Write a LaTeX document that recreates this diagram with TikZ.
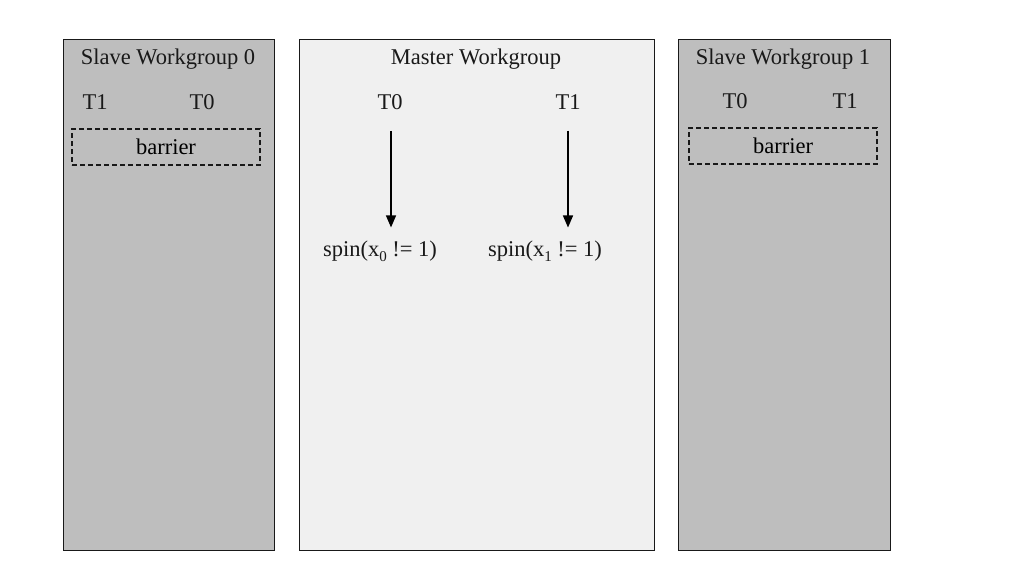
\documentclass[tikz,border=0pt]{standalone}
\usepackage{fontspec}
\setmainfont{Liberation Serif}
\usetikzlibrary{arrows.meta}
\definecolor{slavegray}{HTML}{BEBEBE}
\definecolor{mastergray}{HTML}{F0F0F0}
\newcommand{\lowsub}[1]{\raisebox{-5pt}{\fontsize{15}{18}\selectfont #1}}
\begin{document}
\begin{tikzpicture}[x=1pt,y=-1pt,
  panel/.style={draw=black!90, line width=1.3pt},
  lbl/.style={inner sep=0pt, font=\fontsize{22.5}{27}\selectfont, text=black!90},
  barrierbox/.style={draw=black!90, dashed, dash pattern=on 5pt off 3pt, line width=1.2pt, minimum width=188pt, minimum height=36pt, inner sep=0pt, font=\fontsize{22.5}{27}\selectfont},
  arr/.style={-{Triangle[length=12pt,width=10pt]}, line width=1.3pt}]
\useasboundingbox (0,0) rectangle (1024,576);
% panels
\node[panel, fill=slavegray, minimum width=211pt, minimum height=511pt, inner sep=0pt, anchor=north west] (s0) at (63,39) {};
\node[panel, fill=mastergray, minimum width=355pt, minimum height=511pt, inner sep=0pt, anchor=north west] (m) at (299,39) {};
\node[panel, fill=slavegray, minimum width=212pt, minimum height=511pt, inner sep=0pt, anchor=north west] (s1) at (678,39) {};
% slave 0
\node[lbl] (s0title) at (168,59) {Slave Workgroup 0};
\node[lbl] (s0t1) at (95,102) {T1};
\node[lbl] (s0t0) at (202,102) {T0};
\node[barrierbox] (s0bar) at (166,147) {barrier};
% master
\node[lbl] (mtitle) at (476,59) {Master Workgroup};
\node[lbl] (mt0) at (390,102) {T0};
\node[lbl] (mt1) at (568,102) {T1};
\node[lbl] (ms0) at (380,251) {spin(x\lowsub{0} != 1)};
\node[lbl] (ms1) at (545,251) {spin(x\lowsub{1} != 1)};
\draw[arr, shorten <=21pt, shorten >=13pt] ([xshift=1pt]mt0.south) -- ([xshift=1pt]mt0.south |- ms0.north);
\draw[arr, shorten <=21pt, shorten >=13pt] (mt1.south) -- (mt1.south |- ms1.north);
% slave 1
\node[lbl] (s1title) at (783,59) {Slave Workgroup 1};
\node[lbl] (s1t0) at (735,101) {T0};
\node[lbl] (s1t1) at (845,101) {T1};
\node[barrierbox] (s1bar) at (783,146) {barrier};
\end{tikzpicture}
\end{document}
